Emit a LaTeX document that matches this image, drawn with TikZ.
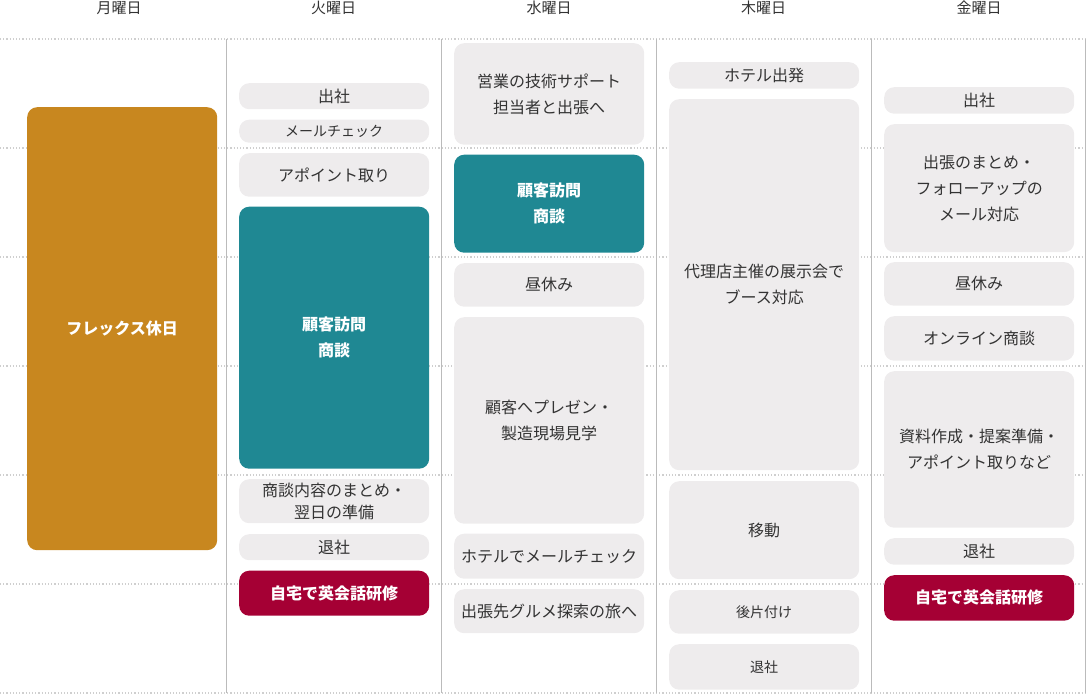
\documentclass[tikz,border=0pt]{standalone}
\usepackage{fontspec}
\setmainfont{Noto Sans CJK JP}
\usetikzlibrary{positioning}

\definecolor{flexgold}{HTML}{C8871F}
\definecolor{visitteal}{HTML}{1F8893}
\definecolor{studyred}{HTML}{A50034}
\definecolor{slotgray}{HTML}{EEECED}
\definecolor{inkgray}{HTML}{333333}
\definecolor{rulegray}{HTML}{BBBBBB}

\begin{document}
\begin{tikzpicture}[x=1pt, y=-1pt,
    nodes={inner sep=0pt, align=center, anchor=north west, minimum width=190pt,
      rounded corners=10pt, font=\fontsize{16}{26}\selectfont},
    slot/.style={fill=slotgray, text=inkgray},
    small/.style={font=\fontsize{14}{26}\selectfont},
    visit/.style={fill=visitteal, text=white, font=\fontsize{16}{26}\selectfont\bfseries},
    flex/.style={fill=flexgold, text=white, font=\fontsize{16}{26}\selectfont\bfseries},
    study/.style={fill=studyred, text=white, font=\fontsize{16}{26}\selectfont\bfseries},
    dayhead/.style={anchor=center, minimum width=0pt, text=inkgray, font=\fontsize{15}{18}\selectfont}]
  \useasboundingbox (0,0) rectangle (1086,695);

  % grid
  \foreach \y in {39,148,257,366,475,584,693}
    \draw[rulegray!70, dotted, line width=1.2pt] (0,\y) -- (1086,\y);
  \foreach \x in {226,441,656,871,1085}
    \draw[rulegray, line width=1pt] (\x,39) -- (\x,693);

  % day names
  \node[dayhead] (mon) at (119,8) {月曜日};
  \node[dayhead] (tue) at (333.5,8) {火曜日};
  \node[dayhead] (wed) at (549,8) {水曜日};
  \node[dayhead] (thu) at (763.5,8) {木曜日};
  \node[dayhead] (fri) at (979,8) {金曜日};

  % Monday
  \node[flex, minimum height=443pt] (monFlex) at (27,107) {フレックス休日};

  % Tuesday
  \node[slot, minimum height=26pt] (tueIn) at (239,83) {出社};
  \node[slot, small, minimum height=23pt] (tueMail) at (239,119.5) {メールチェック};
  \node[slot, minimum height=43.5pt] (tueAppt) at (239,153) {アポイント取り};
  \node[visit, minimum height=262pt] (tueVisit) at (239,206.5) {顧客訪問\\商談};
  \node[slot, minimum height=44pt, font=\fontsize{16}{22}\selectfont] (tueNotes) at (239,479) {商談内容のまとめ・\\翌日の準備};
  \node[slot, minimum height=26pt] (tueOut) at (239,534) {退社};
  \node[study, minimum height=45pt] (tueStudy) at (239,570.5) {自宅で英会話研修};

  % Wednesday
  \node[slot, minimum height=101.5pt] (wedTrip) at (454,43) {営業の技術サポート\\担当者と出張へ};
  \node[visit, minimum height=98pt] (wedVisit) at (454,154.5) {顧客訪問\\商談};
  \node[slot, minimum height=43.5pt] (wedLunch) at (454,263) {昼休み};
  \node[slot, minimum height=206.5pt] (wedPres) at (454,317) {顧客へプレゼン・\\製造現場見学};
  \node[slot, minimum height=45pt] (wedMail) at (454,533.5) {ホテルでメールチェック};
  \node[slot, minimum height=44pt] (wedFood) at (454,589) {出張先グルメ探索の旅へ};

  % Thursday
  \node[slot, minimum height=26.5pt] (thuHotel) at (669,62) {ホテル出発};
  \node[slot, minimum height=371pt] (thuFair) at (669,99) {代理店主催の展示会で\\ブース対応};
  \node[slot, minimum height=98pt] (thuMove) at (669,481) {移動};
  \node[slot, small, minimum height=43.5pt] (thuClear) at (669,590) {後片付け};
  \node[slot, small, minimum height=45.5pt] (thuOut) at (669,644) {退社};

  % Friday
  \node[slot, minimum height=26.5pt] (friIn) at (884,87) {出社};
  \node[slot, minimum height=128pt] (friFollow) at (884,124) {出張のまとめ・\\フォローアップの\\メール対応};
  \node[slot, minimum height=43.5pt] (friLunch) at (884,262) {昼休み};
  \node[slot, minimum height=44.5pt] (friOnline) at (884,316) {オンライン商談};
  \node[slot, minimum height=156.5pt] (friDocs) at (884,371) {資料作成・提案準備・\\アポイント取りなど};
  \node[slot, minimum height=26.5pt] (friOut) at (884,538) {退社};
  \node[study, minimum height=45.5pt] (friStudy) at (884,575) {自宅で英会話研修};
\end{tikzpicture}
\end{document}
